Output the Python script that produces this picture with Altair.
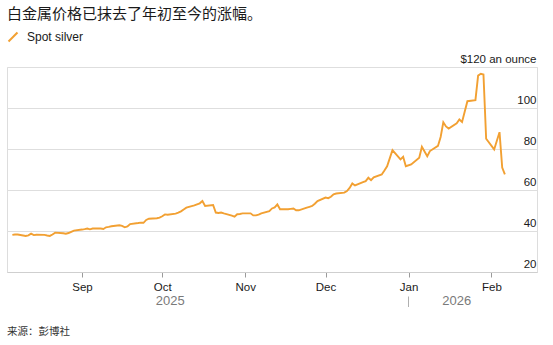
import altair as alt
import pandas as pd

# ---- data ----
dates = [
    "2025-08-06", "2025-08-07", "2025-08-08", "2025-08-11", "2025-08-12", "2025-08-13",
    "2025-08-14", "2025-08-15", "2025-08-18", "2025-08-19", "2025-08-20", "2025-08-21",
    "2025-08-22", "2025-08-25", "2025-08-26", "2025-08-27", "2025-08-28", "2025-08-29",
    "2025-09-01", "2025-09-02", "2025-09-03", "2025-09-04", "2025-09-05", "2025-09-08",
    "2025-09-09", "2025-09-10", "2025-09-11", "2025-09-12", "2025-09-15", "2025-09-16",
    "2025-09-17", "2025-09-18", "2025-09-19", "2025-09-22", "2025-09-23", "2025-09-24",
    "2025-09-25", "2025-09-26", "2025-09-29", "2025-09-30",
    "2025-10-01", "2025-10-02", "2025-10-03", "2025-10-06", "2025-10-07", "2025-10-08",
    "2025-10-09", "2025-10-10", "2025-10-13", "2025-10-14", "2025-10-15", "2025-10-16",
    "2025-10-17", "2025-10-20", "2025-10-21", "2025-10-22", "2025-10-23", "2025-10-24",
    "2025-10-27", "2025-10-28", "2025-10-29", "2025-10-30", "2025-10-31",
    "2025-11-03", "2025-11-04", "2025-11-05", "2025-11-06", "2025-11-07", "2025-11-10",
    "2025-11-11", "2025-11-12", "2025-11-13", "2025-11-14", "2025-11-17", "2025-11-18",
    "2025-11-19", "2025-11-20", "2025-11-21", "2025-11-24", "2025-11-25", "2025-11-26",
    "2025-11-27", "2025-11-28",
    "2025-12-01", "2025-12-02", "2025-12-03", "2025-12-04", "2025-12-05", "2025-12-08",
    "2025-12-09", "2025-12-10", "2025-12-11", "2025-12-12", "2025-12-15", "2025-12-16",
    "2025-12-17", "2025-12-18", "2025-12-19", "2025-12-22", "2025-12-23", "2025-12-24",
    "2025-12-26", "2025-12-29", "2025-12-30", "2025-12-31",
    "2026-01-02", "2026-01-05", "2026-01-06", "2026-01-08", "2026-01-09", "2026-01-12",
    "2026-01-13", "2026-01-14", "2026-01-15", "2026-01-16", "2026-01-19", "2026-01-20",
    "2026-01-21", "2026-01-23", "2026-01-26", "2026-01-27", "2026-01-28", "2026-01-29",
    "2026-01-30",
    "2026-02-02", "2026-02-03", "2026-02-04", "2026-02-05", "2026-02-06",
]
prices = [
    38.1, 38.3, 38.3, 37.6, 37.9, 38.7,
    38.0, 38.2, 38.1, 37.8, 37.6, 38.3,
    39.2, 38.9, 38.7, 39.0, 39.6, 40.2,
    40.7, 40.9, 41.2, 40.8, 41.2, 41.2,
    41.0, 41.8, 42.0, 42.3, 42.8, 42.5,
    41.8, 42.2, 43.4, 43.9, 44.1, 44.0,
    45.4, 46.0, 46.2, 46.5,
    47.2, 48.1, 47.9, 48.5, 49.0, 49.6,
    50.5, 51.4, 52.5, 53.0, 53.5, 54.6,
    52.2, 52.7, 49.0, 48.8, 49.0, 48.6,
    47.5, 47.0, 48.2, 48.3, 48.6,
    48.6, 47.6, 47.6, 48.0, 48.6, 49.7,
    51.0, 51.5, 53.0, 50.6, 50.6, 50.8,
    51.0, 50.1, 50.1, 51.4, 51.8, 52.2,
    53.3, 54.6,
    56.3, 56.0, 56.7, 57.9, 58.3, 58.7,
    59.5, 61.0, 63.2, 62.2, 63.8, 64.3,
    66.0, 64.8, 66.2, 67.6, 69.5, 71.6,
    79.4, 74.9, 76.2, 71.6,
    72.5, 75.7, 81.1, 76.5, 79.0, 81.5,
    85.9, 93.0, 91.0, 90.0, 92.5, 94.4,
    93.2, 103.3, 103.8, 115.8, 116.7, 116.3,
    85.0,
    79.8, 84.0, 88.2, 70.9, 67.6,
]
series_name = "Spot silver"
title_text = "白金属价格已抹去了年初至今的涨幅。"
source_text = "来源：彭博社"
y_ticks = [20, 40, 60, 80, 100, 120]
month_ticks = [(2025, 9), (2025, 10), (2025, 11), (2025, 12), (2026, 1), (2026, 2)]
year_labels = ["2025", "2026"]
year_centers = ["2025-10-04", "2026-01-19"]
year_breaks = ["2026-01-01"]

ORANGE = "#F2A032"
FONT = "Liberation Sans"

df = pd.DataFrame({"date": dates, "price": prices, "series": series_name})
df_years = pd.DataFrame({"date": year_centers, "label": year_labels})
df_break = pd.DataFrame({"date": year_breaks})
df_source = pd.DataFrame({"t": [source_text]})

x_scale = alt.Scale(
    type="utc",
    domain=[alt.DateTime(year=2025, month=8, date=4, utc=True),
            alt.DateTime(year=2026, month=2, date=18, utc=True)],
)

x_axis = alt.Axis(
    values=[alt.DateTime(year=y, month=m, date=1, utc=True) for y, m in month_ticks],
    labelExpr="utcFormat(datum.value, '%b')", title=None, grid=False,
    domainColor="#cfcfcf", domainWidth=1,
    tickColor="#9a9a9a", tickSize=5, tickWidth=1,
    labelFont=FONT, labelFontSize=11.5, labelColor="#1a1a1a", labelPadding=4,
)

y_axis = alt.Axis(
    orient="right", values=y_ticks, title=None,
    labelExpr="datum.value == 120 ? '$120 an ounce' : datum.label",
    grid=True, gridColor="#dedede", gridWidth=1,
    domain=False, ticks=False, tickSize=0,
    labelAlign="right", labelPadding=-1, labelBaseline="alphabetic", labelOffset=-4.5,
    labelFont=FONT, labelFontSize=11.5, labelColor="#1a1a1a",
)

line = alt.Chart(df).mark_line(strokeWidth=1.9).encode(
    x=alt.X("date:T", scale=x_scale, axis=x_axis),
    y=alt.Y("price:Q", scale=alt.Scale(domain=[20, 120], nice=False, zero=False), axis=y_axis),
    color=alt.Color(
        "series:N",
        scale=alt.Scale(range=[ORANGE]),
        legend=alt.Legend(
            title=None, orient="none", legendX=0, legendY=-36, padding=0,
            symbolType="M-1,1L1,-1", symbolSize=80, symbolStrokeWidth=2,
            labelFont=FONT, labelFontSize=12, labelColor="#1a1a1a", labelOffset=8,
        ),
    ),
)

years = alt.Chart(df_years).mark_text(
    font=FONT, fontSize=13, color="#7a7a7a", baseline="middle", align="center"
).encode(
    x=alt.X("date:T", scale=x_scale, axis=x_axis),
    y=alt.value(234),
    text="label:N",
)

year_rule = alt.Chart(df_break).mark_rule(color="#b0b0b0", strokeWidth=1).encode(
    x=alt.X("date:T", scale=x_scale, axis=x_axis),
    y=alt.value(229.5),
    y2=alt.value(240),
)

source = alt.Chart(df_source).mark_text(
    font="Noto Sans CJK SC", fontSize=10.5, color="#333333", baseline="middle", align="left"
).encode(
    x=alt.value(0),
    y=alt.value(264.5),
    text="t:N",
)

chart = alt.layer(line, years, year_rule, source).properties(
    width=530,
    height=205,
    padding={"left": 7, "top": 67, "right": 16, "bottom": 73},
    autosize=alt.AutoSizeParams(type="none"),
    title=alt.TitleParams(
        text=title_text, anchor="start", frame="group", orient="top",
        font="Noto Sans CJK SC", fontSize=15, fontWeight="normal", color="#1a1a1a",
        offset=0, dy=-9,
    ),
).configure_view(stroke=None).configure(background="white")

chart.save("out.html", embed_options={"renderer": "svg", "actions": False})
